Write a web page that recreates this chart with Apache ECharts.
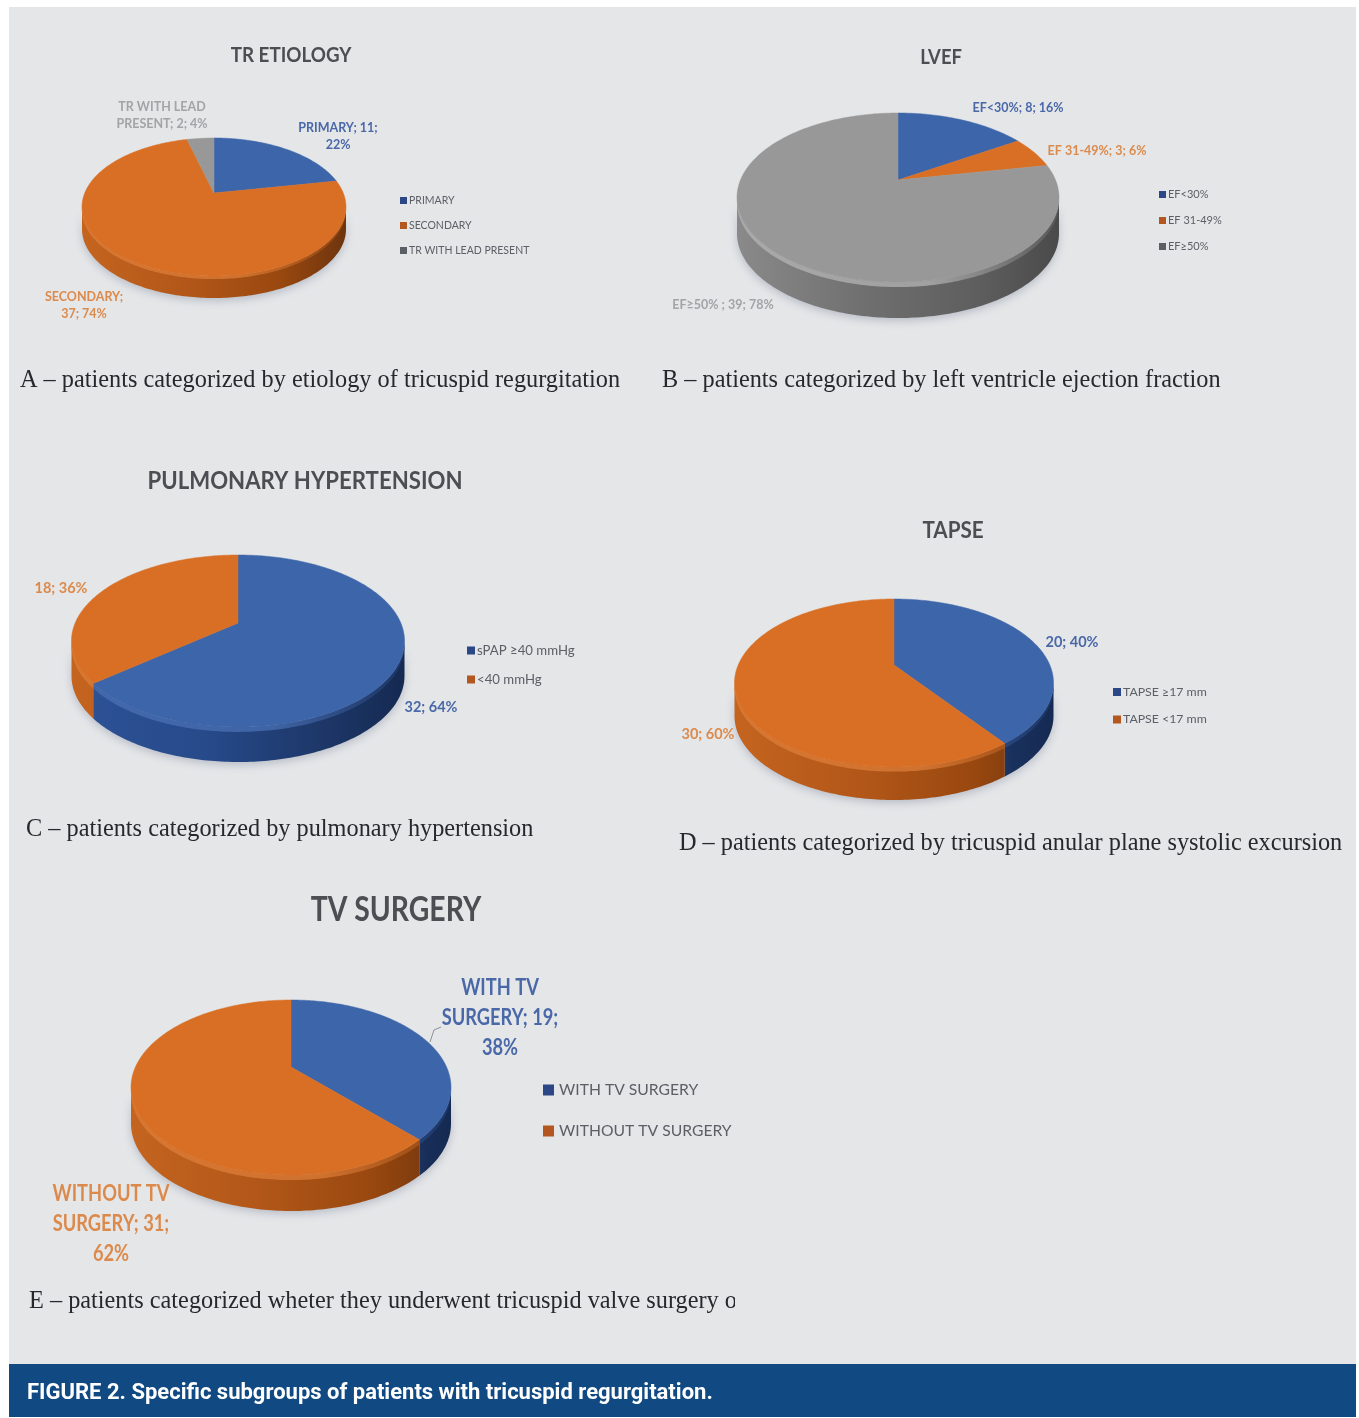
<!DOCTYPE html>
<html>
<head>
<meta charset="utf-8">
<title>Specific subgroups of patients with tricuspid regurgitation</title>
<style>html,body{margin:0;padding:0;background:#fff}#chart{width:1359px;height:1418px}</style>
<script src="https://cdn.jsdelivr.net/npm/echarts@6/dist/echarts.min.js"></script>
</head>
<body>
<div id="chart"></div>
<script>
// Subgroup counts
const etiologyNames = ['PRIMARY', 'SECONDARY', 'TR WITH LEAD PRESENT'];
const etiologyValues = [11, 37, 2];
const etiologyLabels = ['PRIMARY; 11;\n22%', 'SECONDARY;\n37; 74%', 'TR WITH LEAD\nPRESENT; 2; 4%'];

const lvefNames = ['EF<30%', 'EF 31-49%', 'EF≥50%'];
const lvefValues = [8, 3, 39];
const lvefLabels = ['EF<30%; 8; 16%', 'EF 31-49%; 3; 6%', 'EF≥50% ; 39; 78%'];

const pulmonaryNames = ['sPAP ≥40 mmHg', '<40 mmHg'];
const pulmonaryValues = [32, 18];
const pulmonaryLabels = ['32; 64%', '18; 36%'];

const tapseNames = ['TAPSE ≥17 mm', 'TAPSE <17 mm'];
const tapseValues = [20, 30];
const tapseLabels = ['20; 40%', '30; 60%'];

const surgeryNames = ['WITH TV SURGERY', 'WITHOUT TV SURGERY'];
const surgeryValues = [19, 31];
const surgeryLabels = ['WITH TV\nSURGERY; 19;\n38%', 'WITHOUT TV\nSURGERY; 31;\n62%'];

const captions = [
  ['A – patients categorized by etiology of tricuspid regurgitation', 20, 381],
  ['B – patients categorized by left ventricle ejection fraction', 662, 381],
  ['C – patients categorized by pulmonary hypertension', 26, 830],
  ['D – patients categorized by tricuspid anular plane systolic excursion', 679, 844],
  ['E – patients categorized wheter they underwent tricuspid valve surgery o', 29, 1302]
];
const figureCaption = 'FIGURE 2. Specific subgroups of patients with tricuspid regurgitation.';

// Slice palette: top face, then wall stops from left to right
const palette = [
  { top: '#3d65a9', label: '#4a68a8', swatch: '#2c4785', wall: ['#2d5296', '#264a8a', '#1d3768', '#152a52'], bevel: '#4a70b4' },
  { top: '#d96f25', label: '#dc8a4c', swatch: '#b4561f', wall: ['#c4641f', '#b25719', '#99480f', '#6e340e'], bevel: '#dd7d38' },
  { top: '#989898', label: '#a2a4a6', swatch: '#5a5f64', wall: ['#8a8a8a', '#6f6f6f', '#5e5e5e', '#4a4a4a'], bevel: '#b4b4b4' }
];

// One entry per pie: data, projected disc geometry, label and legend placement
const pies = [
  { names: etiologyNames, values: etiologyValues, labels: etiologyLabels,
    cx: 214, ay: 193, up: 55, down: 83, rx: 132, depth: 22, labelFont: 'bold 12.5px Lato',
    labelPos: [[338, 136], [84, 305], [162, 115]], labelSize: 12, labelScale: 1,
    title: 'TR ETIOLOGY', titleX: 291, titleY: 55, titleSize: 21, titleScale: 0.895,
    legend: { left: 400, top: 195, gap: 14, size: 10.5, swatch: 7, textPad: -3 } },
  { names: lvefNames, values: lvefValues, labels: lvefLabels,
    cx: 898, ay: 180, up: 67, down: 102, rx: 161, depth: 36, labelFont: 'bold 12.5px Lato',
    labelPos: [[1018, 108], [1097, 151], [723, 305]], labelSize: 12, labelScale: 1,
    title: 'LVEF', titleX: 941, titleY: 57, titleSize: 21, titleScale: 0.875,
    legend: { left: 1159, top: 189, gap: 15, size: 11, swatch: 7, textPad: -3 } },
  { names: pulmonaryNames, values: pulmonaryValues, labels: pulmonaryLabels,
    cx: 238, ay: 623, up: 68, down: 104, rx: 166.5, depth: 35, labelFont: 'bold 14.5px Lato',
    labelPos: [[431, 707], [61, 588]], labelSize: 14, labelScale: 1,
    title: 'PULMONARY HYPERTENSION', titleX: 305, titleY: 481, titleSize: 25, titleScale: 0.887,
    legend: { left: 467, top: 644, gap: 16, size: 13.2, swatch: 8, textPad: -3 } },
  { names: tapseNames, values: tapseValues, labels: tapseLabels,
    cx: 894, ay: 665, up: 66, down: 102, rx: 159.5, depth: 33, labelFont: 'bold 14.5px Lato',
    labelPos: [[1072, 642], [708, 734]], labelSize: 14, labelScale: 1,
    title: 'TAPSE', titleX: 953, titleY: 531, titleSize: 23, titleScale: 0.897,
    legend: { left: 1113, top: 686, gap: 15.5, size: 12.3, swatch: 8, textPad: -3 } },
  { names: surgeryNames, values: surgeryValues, labels: surgeryLabels,
    cx: 291, ay: 1067, up: 67, down: 108, rx: 160, depth: 36, labelFont: 'bold 22px Lato',
    labelPos: [[500, 1018], [111, 1224]], labelSize: 21, labelScale: 0.83, leader: [[430, 1042], [434, 1030], [441, 1027]],
    title: 'TV SURGERY', titleX: 396, titleY: 910, titleSize: 34, titleScale: 0.833,
    legend: { left: 543, top: 1082, gap: 25, size: 15.7, swatch: 11, textPad: 0 } }
];

// Maps a clockwise angle on the disc (0 at the far edge) to the page through a
// perspective projection, so the near half of the disc appears larger.
function projector(p) {
  const ratio = p.down / p.up;
  const k = (ratio - 1) / (ratio + 1);
  const g = p.up * (1 + k);
  const f = p.rx * Math.sqrt(1 - k * k);
  return {
    k,
    at(theta, dy) {
      const u = Math.sin(theta), v = Math.cos(theta), w = 1 + k * v;
      return [p.cx + f * u / w, p.ay - g * v / w + (dy || 0)];
    }
  };
}

function arcPoints(proj, a, b, dy) {
  const pts = [];
  const steps = Math.max(2, Math.ceil(Math.abs(b - a) / (Math.PI / 180)));
  for (let i = 0; i <= steps; i++) pts.push(proj.at(a + (b - a) * i / steps, dy));
  return pts;
}

function renderSlice(pie, colorIndex) {
  return function (params, api) {
    const from = api.value(0), size = api.value(1), total = api.value(2);
    const proj = projector(pie);
    const a = from / total * Math.PI * 2;
    const b = (from + size) / total * Math.PI * 2;
    const col = palette[colorIndex];
    const children = [];

    // Only the stretch of rim facing the viewer shows a wall
    const rimStart = Math.acos(-proj.k), rimEnd = Math.PI * 2 - rimStart;
    const wa = Math.max(a, rimStart), wb = Math.min(b, rimEnd);
    if (wb > wa) {
      const upper = arcPoints(proj, wa, wb, 0);
      const lower = arcPoints(proj, wb, wa, pie.depth);
      const x0 = pie.cx - pie.rx, x1 = pie.cx + pie.rx;
      children.push({
        type: 'polygon',
        shape: { points: upper.concat(lower) },
        style: {
          fill: {
            type: 'linear', x: x0, y: 0, x2: x1, y2: 0, global: true,
            colorStops: [
              { offset: 0, color: col.wall[0] }, { offset: 0.4, color: col.wall[1] },
              { offset: 0.75, color: col.wall[2] }, { offset: 1, color: col.wall[3] }
            ]
          },
          shadowBlur: 8, shadowColor: 'rgba(70,80,110,0.28)', shadowOffsetY: 3
        }
      });
      // Soft bevel running along the upper edge of the wall
      const bevelWidth = Math.max(3, pie.depth * 0.14);
      children.push({
        type: 'polygon',
        shape: { points: upper.concat(arcPoints(proj, wb, wa, bevelWidth)) },
        style: {
          fill: {
            type: 'linear', x: x0, y: 0, x2: x1, y2: 0, global: true,
            colorStops: [
              { offset: 0, color: col.bevel }, { offset: 0.6, color: col.bevel },
              { offset: 1, color: col.wall[2] }
            ]
          },
          opacity: 0.75
        }
      });
    }

    // Top face
    children.push({
      type: 'polygon',
      shape: { points: [[pie.cx, pie.ay]].concat(arcPoints(proj, a, b, 0)) },
      style: { fill: col.top, stroke: col.top, lineWidth: 0.5 }
    });

    if (pie.leader && params.seriesName === pie.names[0]) {
      children.push({
        type: 'polyline',
        shape: { points: pie.leader },
        style: { fill: 'none', stroke: '#8d9298', lineWidth: 1 }
      });
    }

    const pos = pie.labelPos[colorIndex];
    children.push({
      type: 'text',
      x: pos[0], y: pos[1],
      scaleX: pie.labelScale,
      style: {
        text: pie.labels[colorIndex],
        font: pie.labelFont,
        fill: col.label,
        align: 'center', verticalAlign: 'middle',
        lineHeight: Math.round(pie.labelSize * 1.45)
      },
      z2: 10
    });
    return { type: 'group', children };
  };
}

const series = [];
pies.forEach(pie => {
  const total = pie.values.reduce((s, v) => s + v, 0);
  let running = 0;
  pie.values.forEach((value, i) => {
    series.push({
      type: 'custom',
      name: pie.names[i],
      coordinateSystem: 'none',
      clip: false,
      silent: true,
      itemStyle: { color: palette[i].top },
      data: [[running, value, total]],
      renderItem: renderSlice(pie, i)
    });
    running += value;
  });
});

const option = {
  animation: false,
  backgroundColor: '#ffffff',
  legend: pies.map(p => ({
    orient: 'vertical',
    left: p.legend.left,
    top: p.legend.top,
    padding: 0,
    selectedMode: false,
    icon: 'rect',
    itemWidth: p.legend.swatch,
    itemHeight: p.legend.swatch,
    itemGap: p.legend.gap,
    textStyle: { fontFamily: 'Lato', fontSize: p.legend.size, color: '#5c6066', padding: [0, 0, 0, p.legend.textPad] },
    data: p.names.map((name, i) => ({ name, itemStyle: { color: palette[i].swatch } }))
  })),
  graphic: [
    { type: 'rect', z: -2, shape: { x: 9, y: 7, width: 1347, height: 1357 }, style: { fill: '#e4e6e8' } },
    { type: 'rect', z: -1, shape: { x: 9, y: 1364, width: 1347, height: 53 }, style: { fill: '#114a82' } },
    {
      type: 'text', z: 5, x: 27, y: 1393,
      style: { text: figureCaption, font: 'bold 22px Roboto', fill: '#ffffff', align: 'left', verticalAlign: 'middle' }
    }
  ].concat(pies.map(p => ({
    type: 'text', z: 5, x: p.titleX, y: p.titleY, scaleX: p.titleScale,
    style: { text: p.title, font: 'bold ' + p.titleSize + 'px Lato', fill: '#4b4e52', align: 'center', verticalAlign: 'middle' }
  }))).concat(captions.map(c => ({
    type: 'text', z: 5, x: c[1], y: c[2],
    style: { text: c[0], font: '24.3px "Liberation Serif"', fill: '#26282b', align: 'left', verticalAlign: 'middle' }
  }))).concat([
    // The last caption runs off the edge of its panel
    { type: 'rect', z: 6, shape: { x: 735, y: 1285, width: 14, height: 30 }, style: { fill: '#e4e6e8' } }
  ]),
  series
};

echarts.init(document.getElementById('chart'), null, { renderer: 'canvas' }).setOption(option);
</script>
</body>
</html>
